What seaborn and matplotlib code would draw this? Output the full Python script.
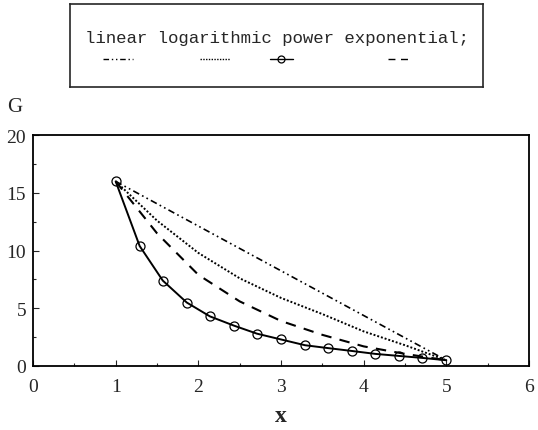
import numpy as np
import pandas as pd
import matplotlib
matplotlib.use("Agg")
import matplotlib.pyplot as plt
from matplotlib.ticker import MultipleLocator
import seaborn as sns

# values
x_ends = [1, 5]
linear = [16, 0.5]

x_half = [1, 1.5, 2, 2.5, 3, 3.5, 4, 4.5, 5]
logarithmic = [16, 12.6, 9.8, 7.6, 5.9, 4.5, 3.0, 1.8, 0.5]
exponential = [16, 11.5, 7.9, 5.6, 3.9, 2.7, 1.7, 1.05, 0.5]

x_power = [1.0, 1.29, 1.57, 1.86, 2.14, 2.43, 2.71, 3.0, 3.29, 3.57, 3.86, 4.14, 4.43, 4.71, 5.0]
power = [16, 10.4, 7.4, 5.5, 4.3, 3.5, 2.8, 2.3, 1.8, 1.55, 1.3, 1.05, 0.87, 0.7, 0.5]

labels = ["linear", "logarithmic", "power", "exponential;"]

sns.set_style("ticks")
plt.rcParams['font.family'] = ['Liberation Serif', 'DejaVu Serif']

fig = plt.figure(figsize=(5.38, 4.31), dpi=100)
ax = fig.add_axes([33 / 538, 0.1485, 496 / 538, 0.5355])

styles = {
    "linear": dict(ls=(0, (4, 2, 1, 2, 1, 2)), lw=1.2),
    "logarithmic": dict(ls=(0, (1, 1)), lw=1.4),
    "power": dict(ls="-", lw=1.4, marker="o", ms=6.5, mfc="none", mec="black", mew=0.9),
    "exponential;": dict(ls=(0, (5, 4)), lw=1.5),
}

sns.lineplot(x=x_ends, y=linear, ax=ax, color="black", **styles["linear"])
sns.lineplot(x=x_half, y=logarithmic, ax=ax, color="black", **styles["logarithmic"])
sns.lineplot(x=x_half, y=exponential, ax=ax, color="black", **styles["exponential;"])
sns.lineplot(x=x_power, y=power, ax=ax, color="black", **styles["power"])

ax.set_xlim(0, 6)
ax.set_ylim(0, 20)
ax.xaxis.set_major_locator(MultipleLocator(1))
ax.xaxis.set_minor_locator(MultipleLocator(0.5))
ax.yaxis.set_major_locator(MultipleLocator(5))
ax.yaxis.set_minor_locator(MultipleLocator(2.5))
ax.tick_params(which="both", direction="in", labelsize=14, length=4, width=0.8,
               top=False, right=False)
ax.tick_params(axis="x", pad=9)
ax.tick_params(axis="y", pad=5)
ax.tick_params(which="minor", length=2)
for s in ax.spines.values():
    s.set_visible(True)
    s.set_linewidth(1.3)
    s.set_color("black")
ax.set_xlabel("x", fontsize=17, fontweight="bold", labelpad=7)
ax.set_ylabel("")
fig.text(15 / 538, 1 - 107 / 431, "G", fontsize=15, ha="center", va="center")

# legend box: labels above their line samples
lax = fig.add_axes([70 / 538, 1 - 88 / 431, 413 / 538, 83 / 431])
lax.set_xlim(0, 1)
lax.set_ylim(0, 1)
lax.set_xticks([])
lax.set_yticks([])
for s in lax.spines.values():
    s.set_linewidth(1.2)
samp = [(0.08, 0.153), (0.315, 0.387), (0.484, 0.54), (0.77, 0.83)]
lax.text(0.5, 0.6, " ".join(labels), family="Liberation Mono", fontsize=12.5,
         ha="center", va="center")
for lab, (a, b) in zip(labels, samp):
    st = dict(styles[lab])
    st["lw"] = 1.0
    if lab == "power":
        st["markevery"] = [1]
        st["ms"] = 5
        lax.plot([a, (a + b) / 2, b], [0.337] * 3, color="black", **st)
    else:
        lax.plot([a, b], [0.337, 0.337], color="black", **st)

fig.savefig("out.png", dpi=100)
